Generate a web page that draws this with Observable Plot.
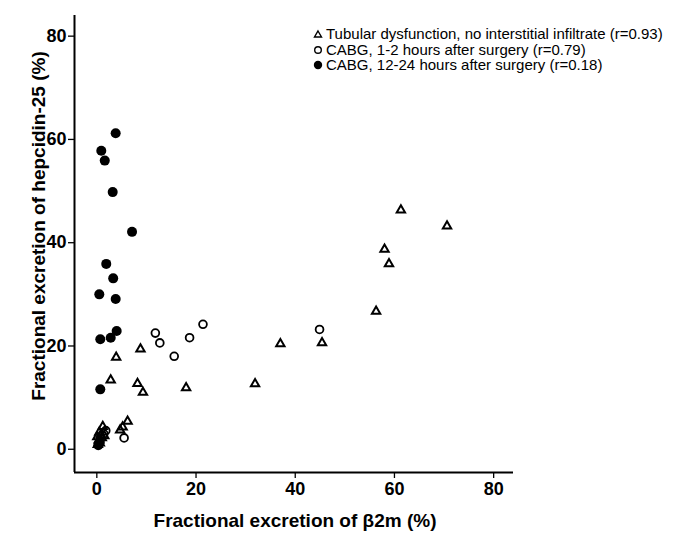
<!DOCTYPE html>
<html>
<head>
<meta charset="utf-8">
<script src="https://cdn.jsdelivr.net/npm/d3@7"></script>
<script src="https://cdn.jsdelivr.net/npm/@observablehq/plot@0.6"></script>
<style>
  body { margin: 0; background: #fff; font-family: "Liberation Sans", Arial, sans-serif; }
  #wrap { position: relative; width: 685px; height: 549px; }
  #legend { position: absolute; left: 313px; top: 26px; font-size: 15px; color: #000; line-height: 15.7px; }
  #legend div { display: flex; align-items: center; white-space: nowrap; }
  #legend svg { margin-right: 3px; }
</style>
</head>
<body>
<div id="wrap"><div id="legend"></div></div>
<script>
// Tubular dysfunction, no interstitial infiltrate (r=0.93)
const tubular = [
  [61.3,46.3],[70.6,43.2],[58.0,38.7],[58.9,35.9],[56.3,26.7],[45.4,20.6],[37.0,20.4],
  [31.9,12.65],[18.0,11.9],[8.8,19.4],[3.9,17.8],[2.8,13.4],[8.2,12.7],[9.3,11.0],
  [6.2,5.4],[5.2,4.3],[4.7,3.7],[1.2,4.4],[0.5,3.3],[0.1,2.4],[0.8,2.8],[0.4,1.8],
  [1.0,2.2],[0.6,1.2],[0.2,0.9],[1.5,2.6]
];
// CABG, 1-2 hours after surgery (r=0.79)
const cabgEarly = [
  [11.8,22.5],[12.7,20.6],[15.6,18.0],[18.7,21.6],[21.4,24.2],[44.9,23.2],
  [5.5,2.2],[1.8,3.6],[1.4,3.0]
];
// CABG, 12-24 hours after surgery (r=0.18)
const cabgLate = [
  [3.8,61.2],[0.9,57.8],[1.6,55.9],[3.2,49.8],[7.1,42.1],[1.9,35.9],[3.3,33.1],
  [0.5,30.0],[3.8,29.1],[4.0,22.9],[2.8,21.6],[0.7,21.3],[0.7,11.6],[0.3,0.8],[0.6,1.4]
];
const seriesLabels = [
  "Tubular dysfunction, no interstitial infiltrate (r=0.93)",
  "CABG, 1-2 hours after surgery (r=0.79)",
  "CABG, 12-24 hours after surgery (r=0.18)"
];
const xTicks = [0, 20, 40, 60, 80];
const yTicks = [0, 20, 40, 60, 80];
const xDomain = [-4.5, 84];
const yDomain = [-4.5, 84];
const xLabel = "Fractional excretion of β2m (%)";
const yLabel = "Fractional excretion of hepcidin-25 (%)";

const toObj = a => a.map(([x, y]) => ({x, y}));
const font = "Liberation Sans, Arial, sans-serif";

const chart = Plot.plot({
  width: 685,
  height: 549,
  marginLeft: 74,
  marginRight: 172,
  marginTop: 15,
  marginBottom: 77,
  style: { fontFamily: font, background: "white", color: "black" },
  x: { domain: xDomain },
  y: { domain: yDomain },
  marks: [
    Plot.ruleX([xDomain[0]], { stroke: "black", strokeWidth: 2 }),
    Plot.ruleY([yDomain[0]], { stroke: "black", strokeWidth: 2 }),
    Plot.axisX({ ticks: xTicks, tickSize: 6, tickPadding: 4, fontSize: 18, fontWeight: "bold", label: null, strokeWidth: 1.3 }),
    Plot.axisY({ ticks: yTicks, tickSize: 6, tickPadding: 2, fontSize: 18, fontWeight: "bold", label: null, strokeWidth: 1.3 }),
    Plot.dot(toObj(tubular), { x: "x", y: "y", symbol: "triangle", r: 3.1, stroke: "black", strokeWidth: 2, fill: "none" }),
    Plot.dot(toObj(cabgEarly), { x: "x", y: "y", symbol: "circle", r: 3.9, stroke: "black", strokeWidth: 1.8, fill: "none" }),
    Plot.dot(toObj(cabgLate), { x: "x", y: "y", symbol: "circle", r: 5, fill: "black", stroke: "none" })
  ]
});

// axis titles as text in the SVG
const svg = d3.select(chart);
svg.append("text").attr("x", 295).attr("y", 527).attr("text-anchor", "middle")
  .attr("font-family", font).attr("font-size", 19).attr("font-weight", "bold").text(xLabel);
svg.append("text").attr("transform", "translate(45,226) rotate(-90)").attr("text-anchor", "middle")
  .attr("font-family", font).attr("font-size", 19).attr("font-weight", "bold").text(yLabel);

document.getElementById("wrap").prepend(chart);

// legend
const legend = document.getElementById("legend");
const icons = [
  '<svg width="10" height="10"><path d="M5,2 L8.5,8 L1.5,8 Z" fill="none" stroke="black" stroke-width="1.4"/></svg>',
  '<svg width="10" height="10"><circle cx="5" cy="5" r="3.3" fill="none" stroke="black" stroke-width="1.4"/></svg>',
  '<svg width="10" height="10"><circle cx="5" cy="5" r="4.2" fill="black"/></svg>'
];
seriesLabels.forEach((t, i) => {
  const d = document.createElement("div");
  d.innerHTML = icons[i] + "<span>" + t + "</span>";
  legend.appendChild(d);
});
</script>
</body>
</html>
